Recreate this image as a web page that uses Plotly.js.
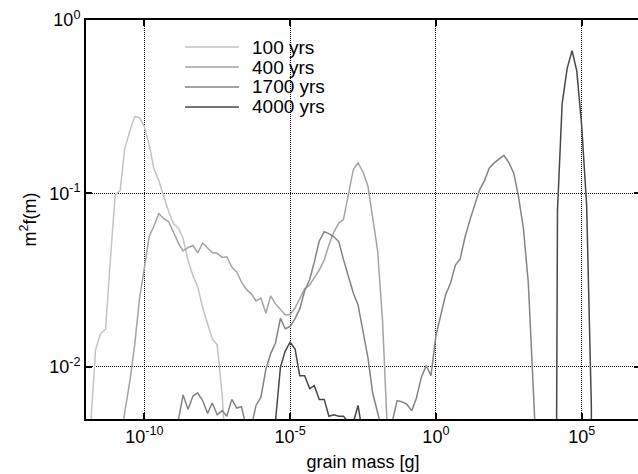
<!DOCTYPE html>
<html><head><meta charset="utf-8">
<script src="https://cdn.plot.ly/plotly-3.0.1.min.js"></script>
<style>html,body{margin:0;padding:0;overflow:hidden;background:#fff}#chart{width:640px;height:474px}</style>
</head><body><div id="chart"></div>
<script>
// ---- data (log10 of grain mass in g, and m^2 f(m)) ----
const seriesNames = ["100 yrs", "400 yrs", "1700 yrs", "4000 yrs"];

const exp100 = [-11.83,-11.67,-11.5,-11.33,-11.17,-11,-10.83,-10.67,-10.5,-10.33,-10.17,-10,-9.83,-9.67,-9.5,-9.33,-9.17,-9,-8.83,-8.67,-8.5,-8.33,-8.17,-8,-7.83,-7.67,-7.5,-7.33,-7.17];
const val100 = [0.0049,0.0126,0.0156,0.0165,0.040,0.098,0.104,0.182,0.228,0.278,0.274,0.243,0.190,0.139,0.118,0.095,0.079,0.067,0.063,0.055,0.041,0.0335,0.029,0.022,0.0177,0.0145,0.0134,0.0069,0.0026];

const exp400 = [-10.83,-10.67,-10.5,-10.33,-10.17,-10,-9.83,-9.67,-9.5,-9.33,-9.17,-9,-8.83,-8.67,-8.5,-8.33,-8.17,-8,-7.83,-7.67,-7.5,-7.33,-7.17,-7,-6.83,-6.67,-6.5,-6.33,-6.17,-6,-5.83,-5.67,-5.5,-5.33,-5.17,-5,-4.83,-4.67,-4.5,-4.33,-4.17,-4,-3.83,-3.67,-3.5,-3.33,-3.17,-3,-2.83,-2.67,-2.5,-2.33,-2.17,-2,-1.83,-1.67];
const val400 = [0.0035,0.0055,0.0082,0.0134,0.0244,0.0377,0.0568,0.0649,0.0766,0.0716,0.0689,0.0599,0.0518,0.0466,0.0488,0.0501,0.0454,0.0518,0.0483,0.0457,0.0452,0.0428,0.0432,0.0377,0.0353,0.0309,0.0280,0.0264,0.0240,0.0249,0.0204,0.0257,0.0231,0.0214,0.0200,0.0200,0.0219,0.0247,0.0282,0.0297,0.0328,0.0362,0.0414,0.0505,0.0599,0.0675,0.0707,0.0965,0.138,0.150,0.133,0.110,0.075,0.047,0.0185,0.0045];

const exp1700 = [-9,-8.83,-8.67,-8.5,-8.33,-8.17,-8,-7.83,-7.67,-7.5,-7.33,-7.17,-7,-6.83,-6.67,-6.5,-6.33,-6.17,-6,-5.83,-5.67,-5.5,-5.33,-5.17,-5,-4.83,-4.67,-4.5,-4.33,-4.17,-4,-3.83,-3.67,-3.5,-3.33,-3.17,-3,-2.83,-2.67,-2.5,-2.33,-2.17,-2,-1.83,-1.67,-1.5,-1.33,-1.17,-1,-0.83,-0.67,-0.5,-0.33,-0.17,0,0.17,0.33,0.5,0.67,0.83,1,1.17,1.33,1.5,1.67,1.83,2,2.17,2.33,2.5,2.67,2.83,3,3.17,3.33,3.5];
const val1700 = [0.0035,0.0049,0.0069,0.0057,0.0068,0.0071,0.0064,0.0054,0.0062,0.0053,0.0056,0.0052,0.0065,0.0058,0.0059,0.0045,0.0045,0.0060,0.0067,0.0097,0.0119,0.0138,0.0191,0.0166,0.0171,0.0190,0.0216,0.0275,0.0318,0.0403,0.0532,0.0603,0.0587,0.0563,0.0527,0.0416,0.0335,0.0266,0.0228,0.0164,0.0113,0.0071,0.0055,0.0042,0.0030,0.0048,0.0064,0.0063,0.0061,0.0056,0.0066,0.0087,0.0102,0.0089,0.0151,0.0197,0.0260,0.0304,0.0387,0.0419,0.0561,0.0707,0.0845,0.105,0.119,0.140,0.150,0.159,0.166,0.151,0.131,0.0965,0.0632,0.0305,0.0063,0.0020];

const exp4000 = [-5.67,-5.5,-5.33,-5.17,-5,-4.83,-4.67,-4.5,-4.33,-4.17,-4,-3.83,-3.67,-3.5,-3.33,-3.17,-3,-2.83,-2.67,-2.5,4,4.17,4.33,4.5,4.67,4.83,5,5.17,5.33,5.5];
const val4000 = [0.003,0.0049,0.0100,0.0123,0.0139,0.0127,0.0089,0.0089,0.0075,0.0078,0.0065,0.0065,0.0052,0.0053,0.0052,0.0052,0.0048,0.0048,0.0060,0.0040,1e-8,0.080,0.330,0.525,0.666,0.511,0.247,0.0855,0.0061,1e-8];

const xTickVals = [1e-10, 1e-5, 1, 1e5];
const xTickText = ["10<sup>-10</sup>", "10<sup>-5</sup>", "10<sup>0</sup>", "10<sup>5</sup>"];
const yTickVals = [0.01, 0.1, 1];
const yTickText = ["10<sup>-2</sup>", "10<sup>-1</sup>", "10<sup>0</sup>"];

// ---- styling ----
const colors = ["#c4c4c4", "#a4a4a4", "#848484", "#484848"];
const FONT = "Liberation Sans, Arial, Helvetica, sans-serif";
const exps = [exp100, exp400, exp1700, exp4000];
const vals = [val100, val400, val1700, val4000];

const traces = exps.map((e, i) => ({
  type: "scatter", mode: "lines", name: seriesNames[i],
  x: e.map(v => Math.pow(10, v)), y: vals[i],
  line: {color: colors[i], width: 1.5},
  showlegend: false, hoverinfo: "skip"
}));

// manual legend (long line samples like the original)
const legX0 = 0.1787, legX1 = 0.2762, legTextX = 0.296;
const legY = [0.9323, 0.8822, 0.8321, 0.7820];
const shapes = seriesNames.map((n, i) => ({
  type: "line", xref: "paper", yref: "paper",
  x0: legX0, x1: legX1, y0: legY[i], y1: legY[i],
  line: {color: colors[i], width: 1.5}
}));
const annotations = seriesNames.map((n, i) => ({
  text: n, xref: "paper", yref: "paper", x: legTextX, y: legY[i],
  xanchor: "left", yanchor: "middle", showarrow: false,
  font: {family: FONT, size: 19, color: "#000"}
}));

const axisCommon = {
  type: "log", ticks: "inside", ticklen: 6, tickwidth: 2, tickcolor: "#000",
  showline: true, linewidth: 2, linecolor: "#000", mirror: "ticks",
  showgrid: true, gridcolor: "#000", griddash: "1px,1px", gridwidth: 1,
  zeroline: false, tickfont: {family: FONT, size: 18, color: "#000"}
};

const layout = {
  width: 640, height: 474, autosize: false,
  margin: {l: 86, r: 0, t: 20, b: 55, pad: 0},
  paper_bgcolor: "#fff", plot_bgcolor: "#fff",
  font: {family: FONT, color: "#000"},
  xaxis: Object.assign({}, axisCommon, {
    range: [-12, 7], tickvals: xTickVals, ticktext: xTickText,
    title: {text: "grain mass [g]", font: {family: FONT, size: 18, color: "#000"}, standoff: 10}
  }),
  yaxis: Object.assign({}, axisCommon, {
    range: [-2.3, 0], tickvals: yTickVals, ticktext: yTickText,
    title: {text: "m<sup>2</sup>f(m)", font: {family: FONT, size: 18, color: "#000"}, standoff: 8}
  }),
  shapes: shapes, annotations: annotations, showlegend: false
};

Plotly.newPlot("chart", traces, layout, {displayModeBar: false, staticPlot: true});
</script></body></html>
